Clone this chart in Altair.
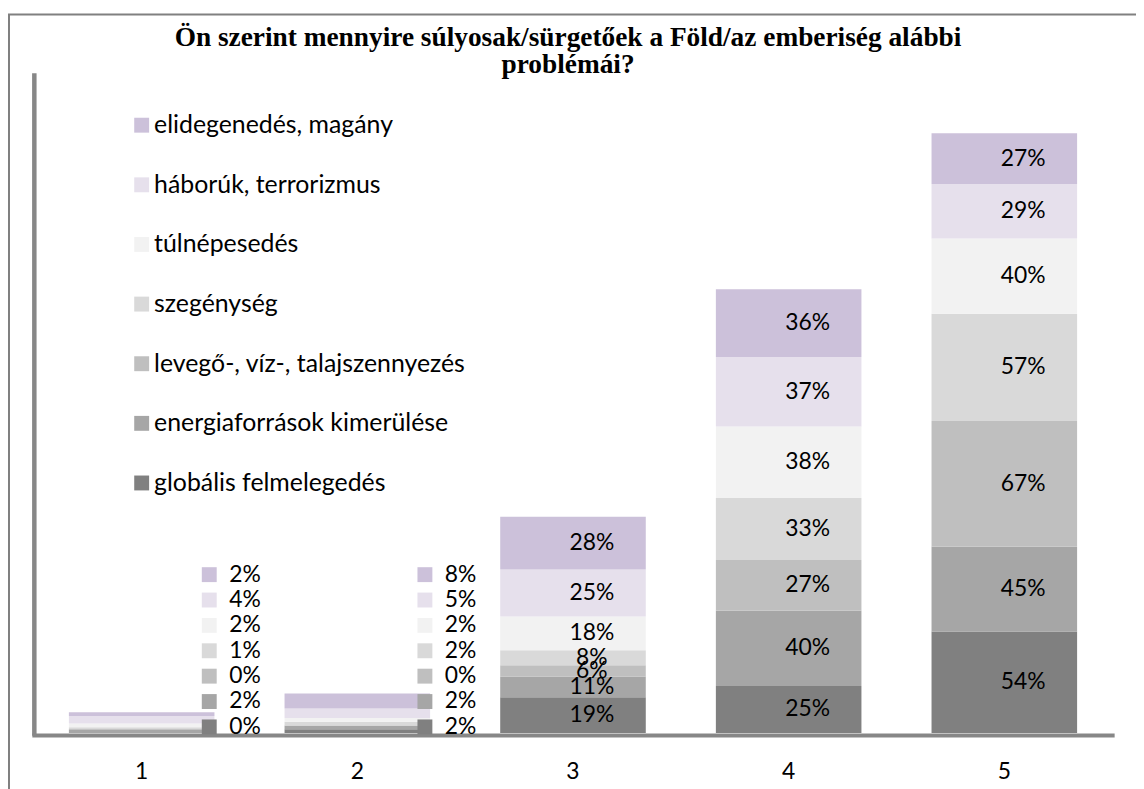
import altair as alt
import pandas as pd

categories = ["1", "2", "3", "4", "5"]
series = [
    "globális felmelegedés",
    "energiaforrások kimerülése",
    "levegő-, víz-, talajszennyezés",
    "szegénység",
    "túlnépesedés",
    "háborúk, terrorizmus",
    "elidegenedés, magány",
]
globalis = [0, 2, 19, 25, 54]
energia = [2, 2, 11, 40, 45]
levego = [0, 0, 6, 27, 67]
szegenyseg = [1, 2, 8, 33, 57]
tulnepesedes = [2, 2, 18, 38, 40]
haboruk = [4, 5, 25, 37, 29]
elidegenedes = [2, 8, 28, 36, 27]
values = [globalis, energia, levego, szegenyseg, tulnepesedes, haboruk, elidegenedes]
colors = ["#808080", "#A6A6A6", "#BFBFBF", "#D9D9D9", "#F2F2F2", "#E6E0EC", "#CCC1DA"]

title_lines = [
    "Ön szerint mennyire súlyosak/sürgetőek a Föld/az emberiség alábbi",
    "problémái?",
]

rows = []
for i, (s, vals) in enumerate(zip(series, values)):
    for c, v in zip(categories, vals):
        rows.append({"cat": c, "series": s, "value": v, "order": i})
df = pd.DataFrame(rows)

FONT = "Lato"
AXIS_GRAY = "#878787"

x_enc = alt.X(
    "cat:N",
    sort=categories,
    scale=alt.Scale(paddingInner=0.325, paddingOuter=0.1625),
    axis=alt.Axis(
        title=None, labelAngle=0, labelFont=FONT, labelFontSize=23,
        labelColor="#000000", labelPadding=26, ticks=False, tickSize=0,
        domainColor=AXIS_GRAY, domainWidth=4, offset=2, domainCap="square",
    ),
)
y_scale = alt.Scale(domain=[0, 350], nice=False, zero=True)

color_enc = alt.Color(
    "series:N",
    scale=alt.Scale(domain=series[::-1], range=colors[::-1]),
    legend=alt.Legend(
        title=None, orient="none", legendX=96, legendY=38,
        symbolType="square", symbolSize=225, symbolStrokeWidth=0,
        symbolOpacity=1, labelFont=FONT, labelFontSize=25,
        labelColor="#000000", labelOffset=0, labelLimit=500,
        rowPadding=34,
    ),
)

base = (
    alt.Chart(df)
    .transform_joinaggregate(total="sum(value)", groupby=["cat"])
    .transform_stack(
        stack="value", groupby=["cat"],
        sort=[alt.SortField("order", order="ascending")],
        as_=["v0", "v1"],
    )
    .transform_calculate(
        mid="(datum.v0 + datum.v1) / 2",
        slot="3.2 + datum.order * 13.5",
        label="datum.value + '%'",
    )
)

bars = base.mark_bar().encode(
    x=x_enc,
    y=alt.Y(
        "v0:Q", scale=y_scale,
        axis=alt.Axis(
            title=None, labels=False, ticks=False, grid=False,
            domainColor=AXIS_GRAY, domainWidth=4.5, domainCap="square",
        ),
    ),
    y2="v1:Q",
    color=color_enc,
)

inner_labels = base.transform_filter("datum.total >= 50").mark_text(
    dx=19, font=FONT, fontSize=23, color="#000000", baseline="middle"
).encode(x=x_enc, y=alt.Y("mid:Q", scale=y_scale), text="label:N")

side_keys = base.transform_filter("datum.total < 50").mark_square(
    size=225, filled=True, opacity=1, xOffset=68
).encode(x=x_enc, y=alt.Y("slot:Q", scale=y_scale), color=color_enc)

side_labels = base.transform_filter("datum.total < 50").mark_text(
    dx=88, align="left", font=FONT, fontSize=23, color="#000000", baseline="middle"
).encode(x=x_enc, y=alt.Y("slot:Q", scale=y_scale), text="label:N")

frame = alt.Chart(pd.DataFrame({"f": [0]})).mark_rect(
    fill="transparent", stroke="#808080", strokeWidth=2
).encode(
    x=alt.value(-25), x2=alt.value(1130), y=alt.value(-61), y2=alt.value(760)
)

chart = (
    alt.layer(frame, bars, inner_labels, side_keys, side_labels)
    .properties(
        width=1085,
        height=662,
        autosize=alt.AutoSizeParams(type="none"),
        padding={"left": 26, "top": 65, "right": 24, "bottom": 54},
        title=alt.TitleParams(
            text=title_lines, font="Liberation Serif", fontSize=27.5,
            fontWeight="bold", color="#000000", anchor="middle", frame="group",
            lineHeight=27, baseline="bottom", offset=-93, dx=-5,
        ),
    )
    .configure(background="white")
    .configure_view(strokeWidth=0, stroke="transparent")
)

chart.save("out.html", embed_options={"renderer": "svg", "actions": False})
